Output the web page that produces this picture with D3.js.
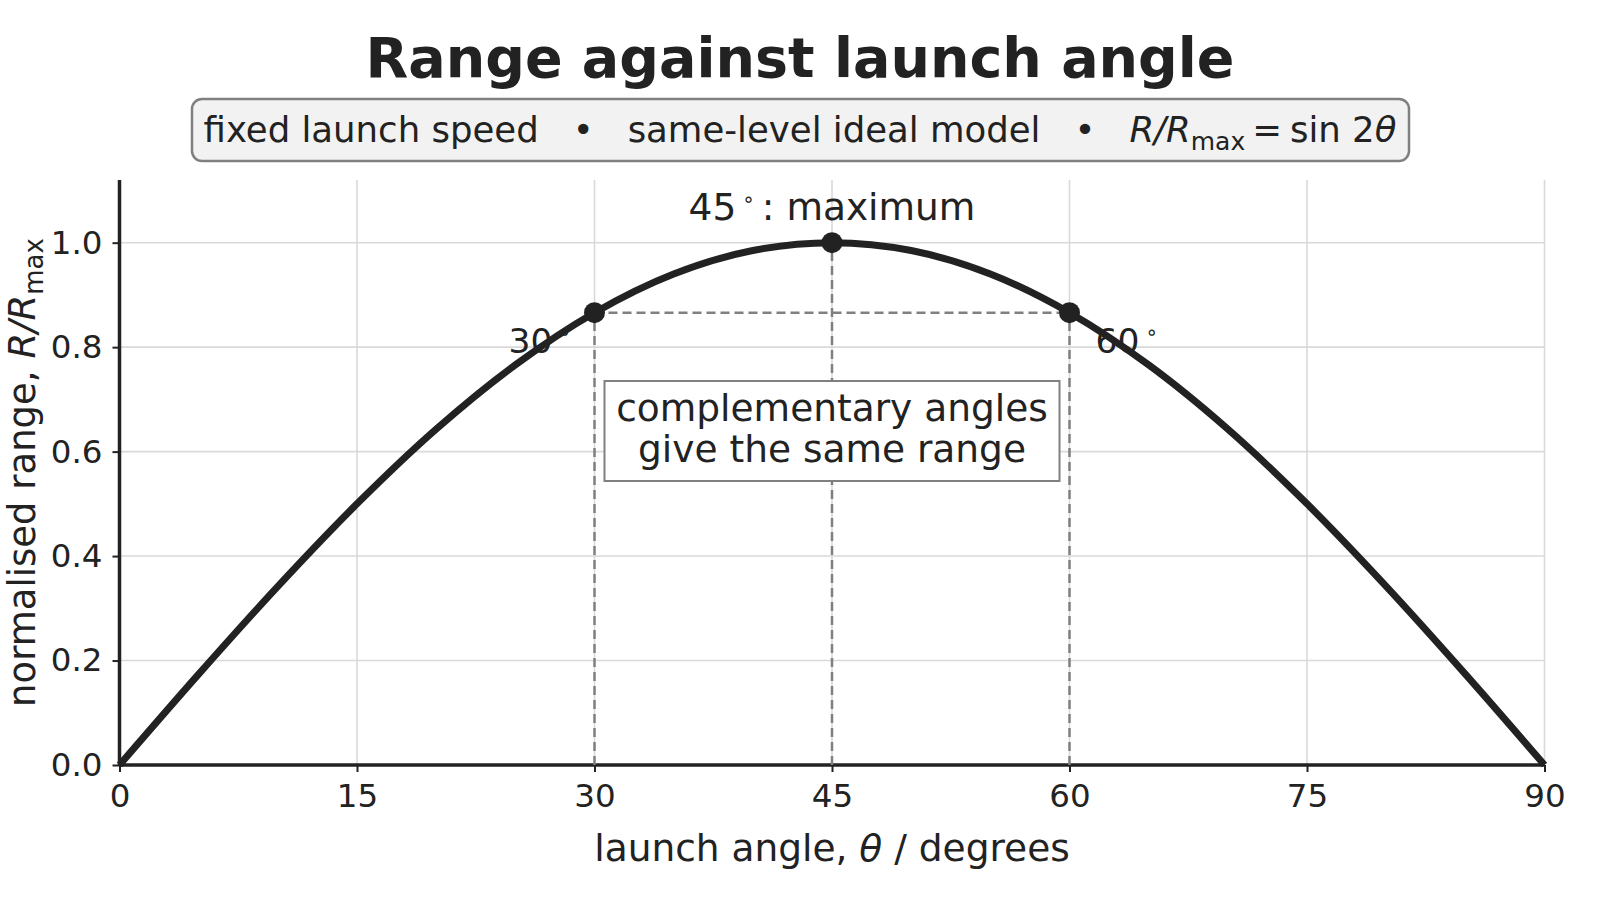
<!DOCTYPE html>
<html>
<head>
<meta charset="utf-8">
<script src="https://cdn.jsdelivr.net/npm/d3@7"></script>
<style>
  body { margin: 0; background: #fff; }
  text { font-family: "DejaVu Sans", sans-serif; fill: #222; }
</style>
</head>
<body>
<svg id="chart" width="1600" height="900"></svg>
<script>
// launch angle (deg) and normalised range
var angles = [0, 5, 10, 15, 20, 25, 30, 35, 40, 45, 50, 55, 60, 65, 70, 75, 80, 85, 90];
var ranges = [0, 0.174, 0.342, 0.5, 0.643, 0.766, 0.866, 0.940, 0.985, 1.0, 0.985, 0.940, 0.866, 0.766, 0.643, 0.5, 0.342, 0.174, 0];

// highlighted points
var markAngles = [30, 45, 60];
var markRanges = [0.866, 1.0, 0.866];

var xTicks = [0, 15, 30, 45, 60, 75, 90];
var yTicks = [0, 0.2, 0.4, 0.6, 0.8, 1.0];

var svg = d3.select("#chart");
svg.append("rect").attr("width", 1600).attr("height", 900).attr("fill", "#fff");

var x = d3.scaleLinear().domain([0, 90]).range([119.5, 1544.5]);
var y = d3.scaleLinear().domain([0, 1.12]).range([765, 180]);

var ink = "#222222";
var dashGrey = "#808080";

// grid
var grid = svg.append("g");
grid.selectAll(".vgrid")
    .data(xTicks)
    .enter()
    .append("line")
    .attr("x1", d => x(d)).attr("x2", d => x(d))
    .attr("y1", y(0)).attr("y2", y(1.12))
    .attr("stroke", "#d9d9d9").attr("stroke-width", 1.6);
grid.selectAll(".hgrid")
    .data(yTicks)
    .enter()
    .append("line")
    .attr("x1", x(0)).attr("x2", x(90))
    .attr("y1", d => y(d)).attr("y2", d => y(d))
    .attr("stroke", "#d9d9d9").attr("stroke-width", 1.6);

// axes
var xAxis = svg.append("g")
    .attr("transform", "translate(0," + y(0) + ")")
    .call(d3.axisBottom(x).tickValues(xTicks).tickSize(7).tickPadding(12).tickFormat(d3.format("d")));
var yAxis = svg.append("g")
    .attr("transform", "translate(" + x(0) + ",0)")
    .call(d3.axisLeft(y).tickValues(yTicks).tickSize(7).tickPadding(10).tickFormat(d3.format(".1f")));

[xAxis, yAxis].forEach(ax => {
    ax.select(".domain").attr("stroke", ink).attr("stroke-width", 3.5);
    ax.selectAll(".tick line").attr("stroke", ink).attr("stroke-width", 2);
    ax.selectAll(".tick text")
        .attr("font-size", 32.5)
        .attr("font-family", "DejaVu Sans")
        .attr("fill", ink);
});
xAxis.select(".domain").attr("d", "M" + x(0) + ",0H" + x(90));
yAxis.select(".domain").attr("d", "M0," + y(0) + "V" + y(1.12));

// dashed guides
var guides = svg.append("g")
    .attr("stroke", dashGrey)
    .attr("stroke-width", 2.5)
    .attr("stroke-dasharray", "9,5")
    .attr("fill", "none");
guides.append("line")
    .attr("x1", x(markAngles[0])).attr("x2", x(markAngles[2]))
    .attr("y1", y(markRanges[0])).attr("y2", y(markRanges[2]));
guides.selectAll(".vguide")
    .data(markAngles)
    .enter()
    .append("line")
    .attr("x1", d => x(d)).attr("x2", d => x(d))
    .attr("y1", y(0))
    .attr("y2", (d, i) => y(markRanges[i]));

// angle labels (drawn under the curve)
function degLabel(sel, num, rest) {
    sel.append("tspan").text(num);
    sel.append("tspan").attr("font-size", 20).attr("dy", -14).attr("dx", 6).text("\u2218");
    if (rest) sel.append("tspan").attr("dy", 14).attr("dx", 7).text(rest);
}
svg.append("text")
    .attr("x", x(30) - 86).attr("y", y(0.866) + 40)
    .attr("text-anchor", "start").attr("font-size", 34.5)
    .call(degLabel, "30");
svg.append("text")
    .attr("x", x(60) + 26).attr("y", y(0.866) + 40)
    .attr("text-anchor", "start").attr("font-size", 34.5)
    .call(degLabel, "60");
svg.append("text")
    .attr("x", x(45)).attr("y", y(1.0) - 23)
    .attr("text-anchor", "middle").attr("font-size", 37.5)
    .call(degLabel, "45", ": maximum");

// curve
var line = d3.line()
    .x((d, i) => x(angles[i]))
    .y(d => y(d))
    .curve(d3.curveCatmullRom.alpha(0.5));
svg.append("path")
    .datum(ranges)
    .attr("d", line)
    .attr("fill", "none")
    .attr("stroke", ink)
    .attr("stroke-width", 7)
    .attr("stroke-linejoin", "round");

svg.selectAll(".mark")
    .data(markAngles)
    .enter()
    .append("circle")
    .attr("cx", d => x(d))
    .attr("cy", (d, i) => y(markRanges[i]))
    .attr("r", 10.5)
    .attr("fill", ink);

// annotation box
var noteW = 455, noteH = 100;
svg.append("rect")
    .attr("x", x(45) - noteW / 2).attr("y", 381)
    .attr("width", noteW).attr("height", noteH)
    .attr("fill", "#fff").attr("stroke", dashGrey).attr("stroke-width", 2);
svg.append("text")
    .attr("x", x(45)).attr("y", 421)
    .attr("text-anchor", "middle").attr("font-size", 37.5)
    .text("complementary angles");
svg.append("text")
    .attr("x", x(45)).attr("y", 462)
    .attr("text-anchor", "middle").attr("font-size", 37.5)
    .text("give the same range");

// title
svg.append("text")
    .attr("x", 800).attr("y", 77)
    .attr("text-anchor", "middle")
    .attr("font-size", 55.5).attr("font-weight", "bold")
    .text("Range against launch angle");

// subtitle box
svg.append("rect")
    .attr("x", 192).attr("y", 99)
    .attr("width", 1217).attr("height", 62)
    .attr("rx", 10).attr("ry", 10)
    .attr("fill", "#f2f2f2").attr("stroke", dashGrey).attr("stroke-width", 2.5);
var sub = svg.append("text")
    .attr("x", 800).attr("y", 142)
    .attr("text-anchor", "middle").attr("font-size", 35.5);
sub.append("tspan").text("fixed launch speed");
sub.append("tspan").attr("dx", 34).text("\u2022");
sub.append("tspan").attr("dx", 34).text("same-level ideal model");
sub.append("tspan").attr("dx", 34).text("\u2022");
sub.append("tspan").attr("dx", 34).attr("font-style", "italic").text("R/R");
sub.append("tspan").attr("font-size", 25).attr("dy", 8).text("max");
sub.append("tspan").attr("dy", -8).attr("dx", 7).text("=");
sub.append("tspan").attr("dx", 8).text("sin 2");
sub.append("tspan").attr("font-style", "italic").text("\u03b8");

// axis titles
var xl = svg.append("text")
    .attr("x", x(45)).attr("y", 861)
    .attr("text-anchor", "middle").attr("font-size", 37.5);
xl.append("tspan").text("launch angle, ");
xl.append("tspan").attr("font-style", "italic").text("\u03b8");
xl.append("tspan").text(" / degrees");

var yl = svg.append("text")
    .attr("transform", "translate(35," + y(0.56) + ") rotate(-90)")
    .attr("text-anchor", "middle").attr("font-size", 37);
yl.append("tspan").text("normalised range, ");
yl.append("tspan").attr("font-style", "italic").text("R/R");
yl.append("tspan").attr("font-size", 26).attr("dy", 8).text("max");
</script>
</body>
</html>
